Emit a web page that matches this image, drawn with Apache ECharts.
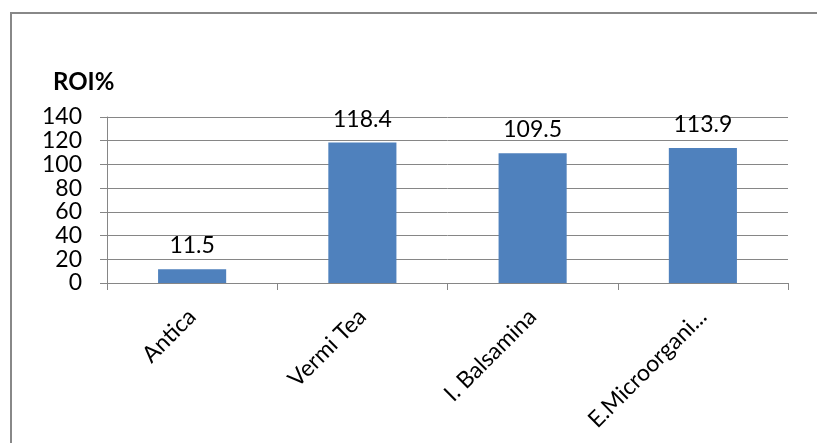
<!DOCTYPE html>
<html>
<head>
<meta charset="utf-8">
<script src="https://cdn.jsdelivr.net/npm/echarts@6/dist/echarts.min.js"></script>
<style>
html,body{margin:0;padding:0;background:#fff;}
#c{width:817px;height:443px;}
</style>
</head>
<body>
<div id="c"></div>
<script>
const categories = ["Antica", "Vermi Tea", "I. Balsamina", "E.Microorgani..."];
const roiValues = [11.5, 118.4, 109.5, 113.9];
const yTicks = [0, 20, 40, 60, 80, 100, 120, 140];
const titleText = "ROI%";

const FONT = "Lato, 'Liberation Sans', Arial, sans-serif";
const chart = echarts.init(document.getElementById('c'), null, {renderer: 'canvas'});
chart.setOption({
  animation: false,
  backgroundColor: '#fff',
  graphic: [{
    type: 'rect',
    shape: {x: 11, y: 13, width: 900, height: 600},
    style: {fill: 'none', stroke: '#888888', lineWidth: 2},
    silent: true
  }],
  title: {
    text: titleText,
    left: 53,
    top: 70,
    padding: 0,
    textStyle: {fontFamily: FONT, fontWeight: 'bold', fontSize: 24, color: '#000'}
  },
  grid: {left: 107, right: 29, top: 117, bottom: 160, containLabel: false},
  xAxis: {
    type: 'category',
    data: categories,
    axisLine: {lineStyle: {color: '#868686', width: 1}},
    axisTick: {show: true, length: 7, alignWithLabel: false, lineStyle: {color: '#868686'}},
    axisLabel: {
      rotate: 45, margin: 30, interval: 0,
      fontFamily: FONT, fontSize: 23, color: '#000'
    }
  },
  yAxis: {
    type: 'value',
    min: yTicks[0],
    max: yTicks[yTicks.length - 1],
    interval: yTicks[1] - yTicks[0],
    axisLine: {show: true, lineStyle: {color: '#868686', width: 1}},
    axisTick: {show: true, length: 7, lineStyle: {color: '#868686'}},
    splitLine: {show: true, lineStyle: {color: '#868686', width: 1}},
    axisLabel: {margin: 25, fontFamily: FONT, fontSize: 23, color: '#000'}
  },
  series: [{
    type: 'bar',
    data: roiValues,
    barWidth: '40%',
    itemStyle: {color: '#4F81BD'},
    label: {
      show: true, position: 'top', distance: 12,
      fontFamily: FONT, fontSize: 23, color: '#000'
    }
  }]
});
</script>
</body>
</html>
